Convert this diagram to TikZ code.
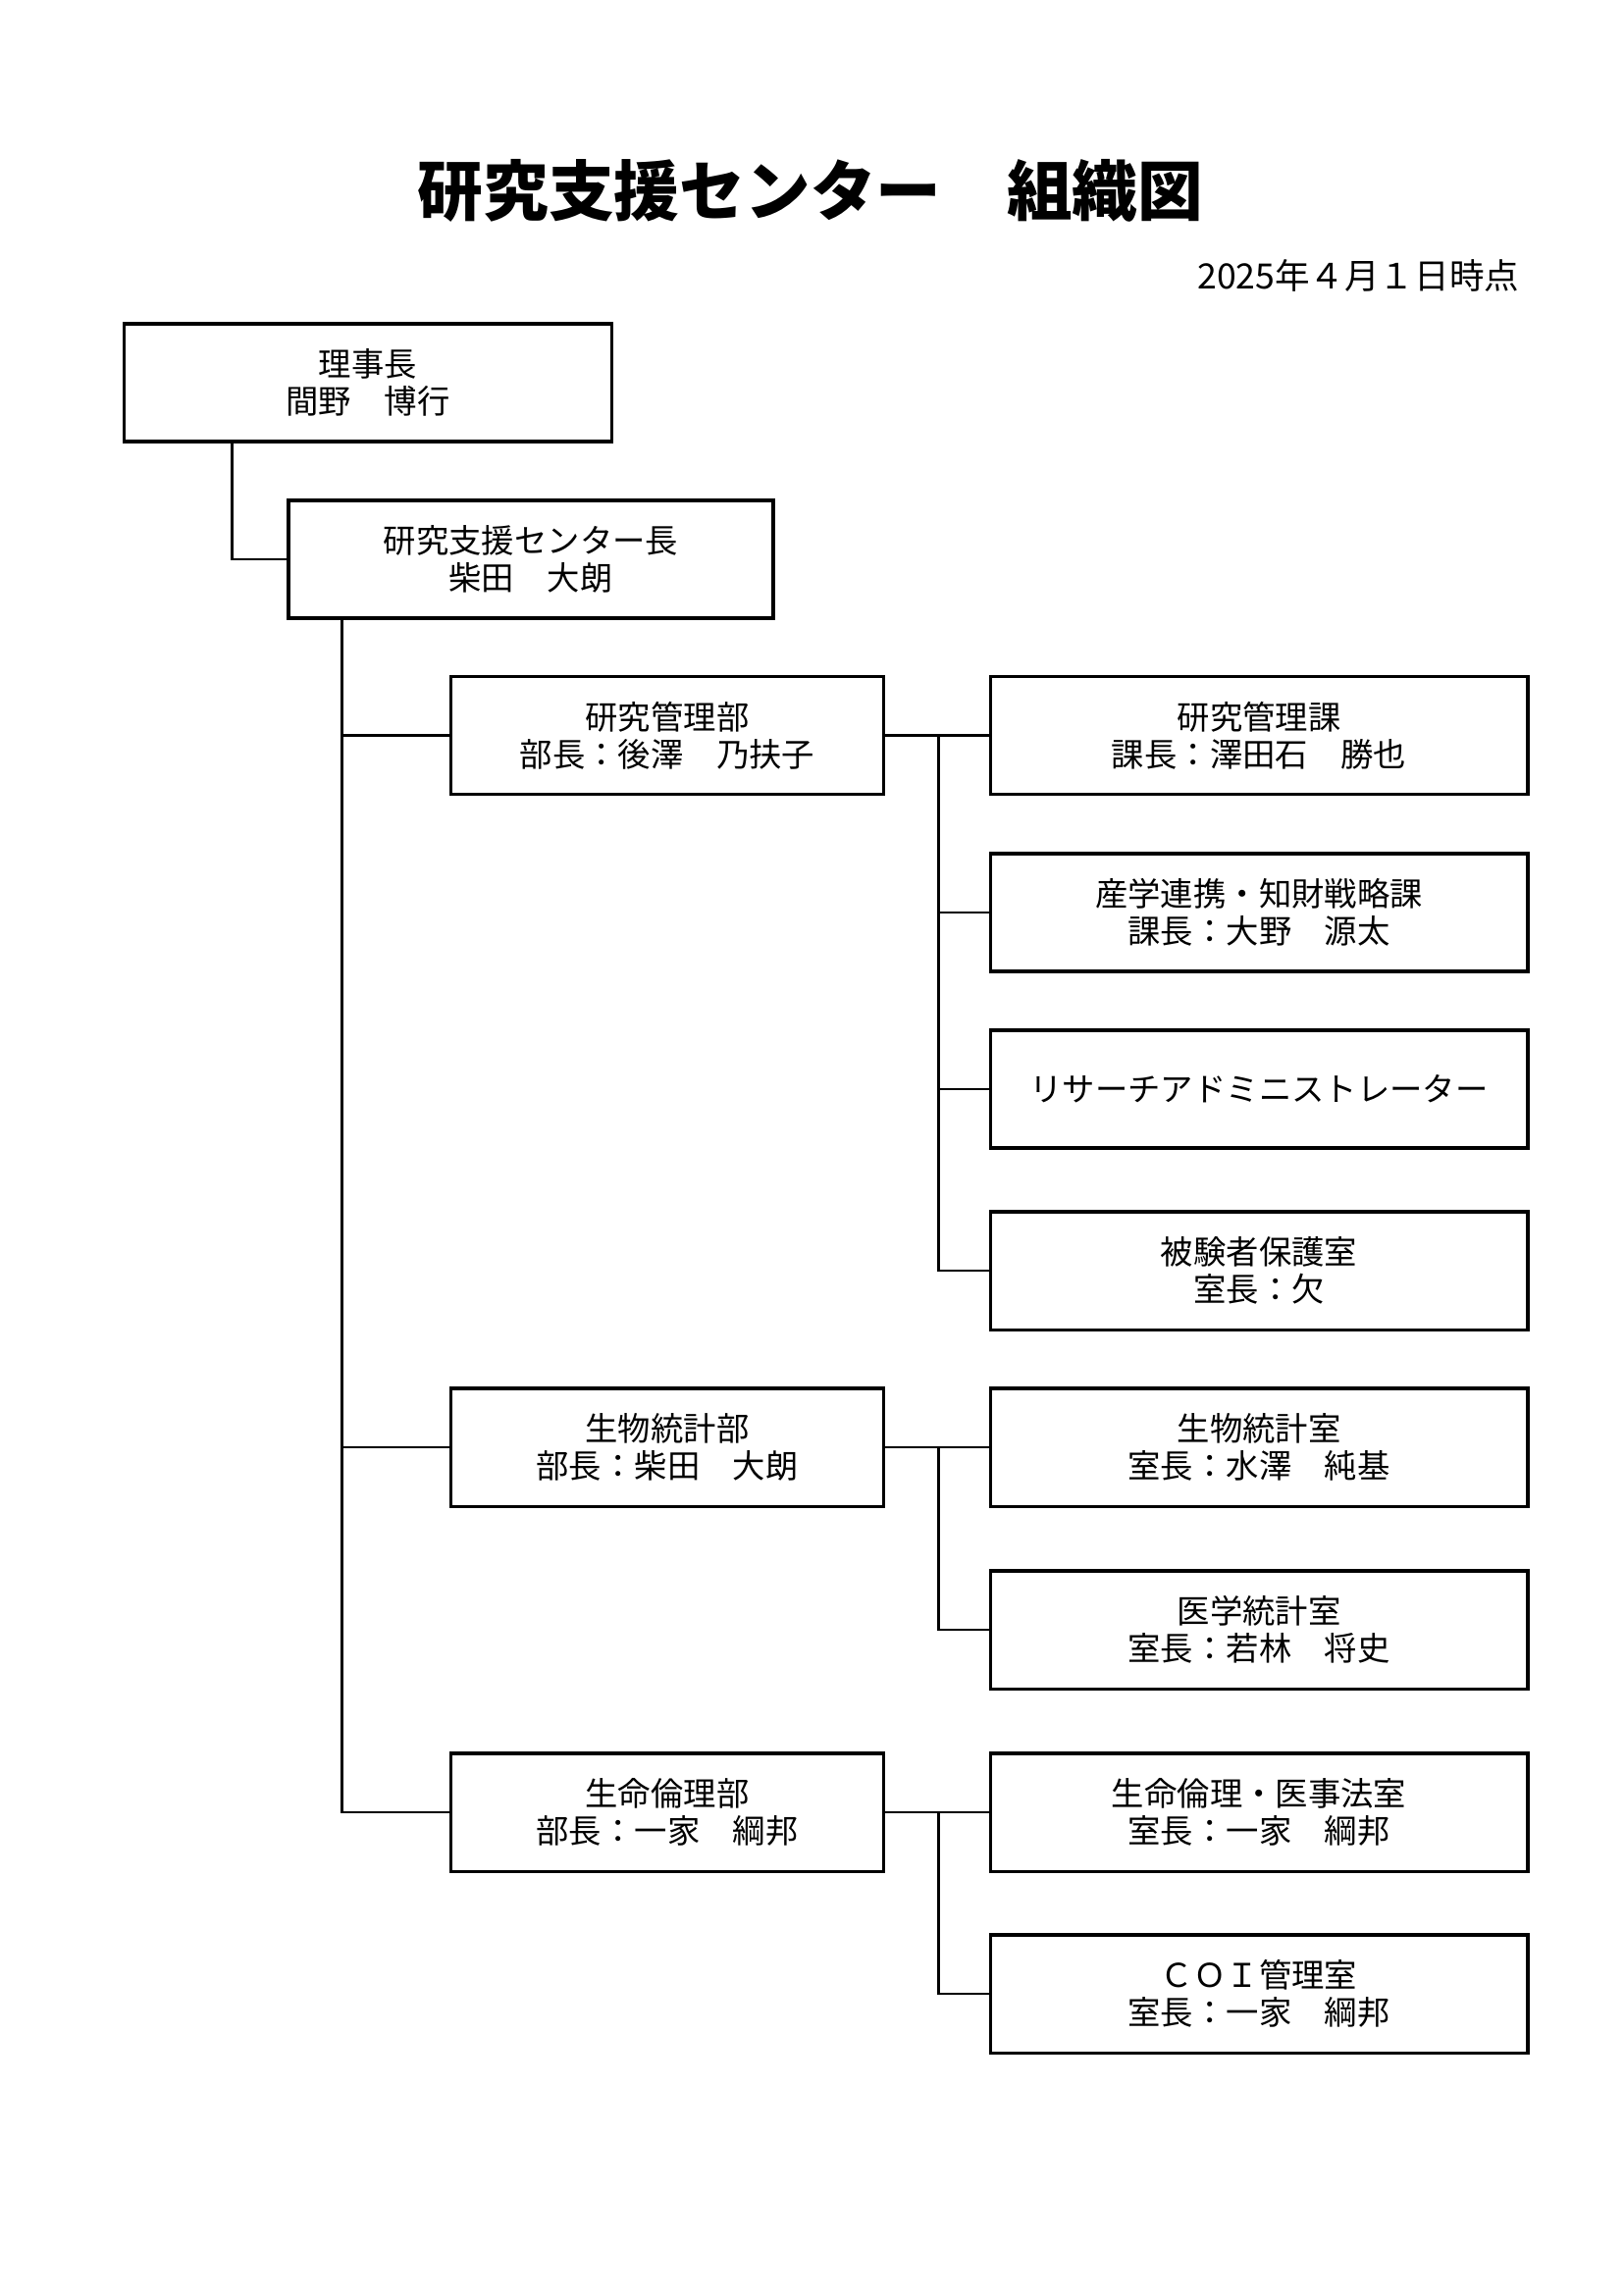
\documentclass[tikz,border=0pt]{standalone}
\usepackage{fontspec}
\setmainfont{Noto Sans CJK JP}
\begin{document}
\begin{tikzpicture}[x=0.35991pt,y=-0.35991pt,
  orgbox/.style={draw, line width=1.1pt, rectangle, align=center, inner sep=0pt,
    font=\fontsize{12}{13.6}\selectfont, minimum height=43.2pt},
  leftbox/.style={orgbox, minimum width=158.4pt},
  rightbox/.style={orgbox, minimum width=197.2pt},
  conn/.style={line width=1pt}]
\useasboundingbox (0,0) rectangle (1654,2339);
% title and date
\node[font=\fontsize{24}{28}\selectfont\bfseries] (title) at (826,194) {研究支援センター　組織図};
\node[anchor=east, font=\fontsize{12.8}{15}\selectfont] (date) at (1558,281) {2025年４月１日時点};
% top boxes
\node[orgbox, minimum width=179.2pt] (rj) at (375,390) {理事長\\間野　博行};
\node[orgbox, minimum width=177.8pt] (ctr) at (541,570) {研究支援センター長\\柴田　大朗};
% departments
\node[leftbox] (d1) at (680,749.5) {研究管理部\\部長：後澤　乃扶子};
\node[leftbox] (d2) at (680,1475) {生物統計部\\部長：柴田　大朗};
\node[leftbox] (d3) at (680,1847) {生命倫理部\\部長：一家　綱邦};
% sections
\node[rightbox] (s1) at (1283,749.5) {研究管理課\\課長：澤田石　勝也};
\node[rightbox] (s2) at (1283,930) {産学連携・知財戦略課\\課長：大野　源太};
\node[rightbox] (s3) at (1283,1110) {リサーチアドミニストレーター};
\node[rightbox] (s4) at (1283,1295) {被験者保護室\\室長：欠};
\node[rightbox] (s5) at (1283,1475) {生物統計室\\室長：水澤　純基};
\node[rightbox] (s6) at (1283,1661) {医学統計室\\室長：若林　将史};
\node[rightbox] (s7) at (1283,1847) {生命倫理・医事法室\\室長：一家　綱邦};
\node[rightbox] (s8) at (1283,2032) {ＣＯＩ管理室\\室長：一家　綱邦};
% connectors
\path (rj.south west) ++(112,0) coordinate (rjdown);
\draw[conn] (rjdown) |- (ctr.west);
\path (ctr.south west) ++(56,0) coordinate (trunk);
\draw[conn] (trunk) |- (d3.west);
\draw[conn] (d1.west) -- (d1.west -| trunk);
\draw[conn] (d2.west) -- (d2.west -| trunk);
\path (d1.east) ++(55,0) coordinate (b1);
\draw[conn] (d1.east) -- (s1.west);
\draw[conn] (b1) |- (s2.west);
\draw[conn] (b1) |- (s3.west);
\draw[conn] (b1) |- (s4.west);
\path (d2.east) ++(55,0) coordinate (b2);
\draw[conn] (d2.east) -- (s5.west);
\draw[conn] (b2) |- (s6.west);
\path (d3.east) ++(55,0) coordinate (b3);
\draw[conn] (d3.east) -- (s7.west);
\draw[conn] (b3) |- (s8.west);
\end{tikzpicture}
\end{document}
